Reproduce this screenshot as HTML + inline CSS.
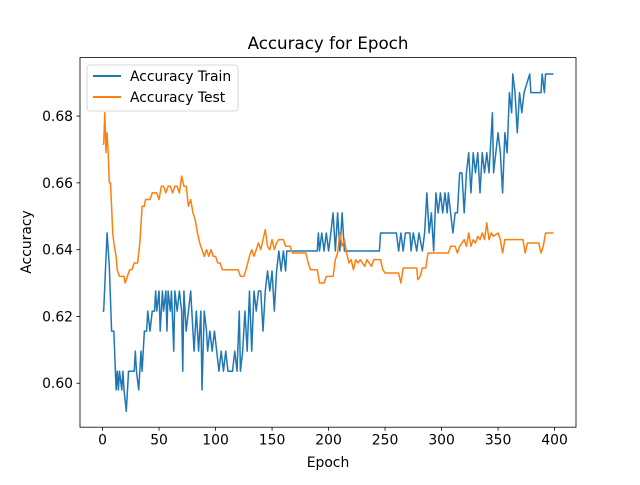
<!DOCTYPE html>
<html><head><meta charset="utf-8"><style>
body{margin:0;background:#fff}
svg{font-family:"DejaVu Sans","Liberation Sans",sans-serif}
</style></head><body>
<svg id="chart" width="640" height="480" viewBox="0 0 640 480">
<rect width="640" height="480" fill="#fff"/>
<text x="328" y="49" font-size="16.7" text-anchor="middle">Accuracy for Epoch</text>
<text x="328" y="467" font-size="13.9" text-anchor="middle">Epoch</text>
<text x="0" y="0" font-size="13.9" text-anchor="middle" transform="translate(31,242) rotate(-90)">Accuracy</text>
<g id="ticks"></g>
<g id="series"></g>
<rect x="80" y="57.6" width="496" height="369.6" fill="none" stroke="#000" stroke-width="0.8"/>
<g>
<rect x="87" y="65" width="151" height="46" rx="3" fill="#fff" fill-opacity="0.8" stroke="#ccc" stroke-width="0.8"/>
<line x1="93" y1="76" x2="121" y2="76" stroke="#1f77b4" stroke-width="2"/>
<text x="130" y="81" font-size="13.9">Accuracy Train</text>
<line x1="93" y1="97" x2="121" y2="97" stroke="#ff7f0e" stroke-width="2"/>
<text x="130" y="102" font-size="13.9">Accuracy Test</text>
</g>
</svg>
<script>
const xTicks=[0,50,100,150,200,250,300,350,400];
const yTicks=[0.60,0.62,0.64,0.66,0.68];
const yTickLabels=["0.60","0.62","0.64","0.66","0.68"];
const trainEpochs=[0,1,4,6,8,10,12,13,14,15,17,18,19,21,23,28,29,30,32,34,35,37,39,40,42,44,46,47,48,50,51,53,54,56,57,58,60,61,63,64,66,68,70,71,72,74,76,78,80,81,83,85,87,88,90,92,93,95,97,99,101,103,105,107,109,111,115,117,119,121,122,124,126,128,130,132,134,136,138,140,142,144,146,148,150,152,154,156,158,160,162,163,190,191,192,194,196,198,200,202,204,206,208,210,212,214,245,246,260,262,264,266,268,272,273,275,278,280,283,285,287,289,291,293,295,297,299,301,303,305,306,308,310,312,314,316,318,320,322,324,326,328,330,332,334,336,338,340,342,345,346,348,350,352,354,356,358,360,362,363,365,367,369,371,373,378,379,388,389,391,392,399];
const trainValues=[.6216,.6216,.645,.635,.6156,.6156,.598,.6036,.598,.6036,.598,.6036,.598,.5916,.6036,.6036,.6096,.6036,.598,.6096,.6036,.6156,.6156,.6216,.6156,.6216,.6216,.6276,.6216,.6276,.6156,.6276,.6216,.6276,.6156,.6276,.6216,.6276,.6096,.6276,.6216,.6276,.6216,.6036,.6276,.6156,.6216,.6276,.6156,.6096,.6216,.6096,.6216,.598,.6216,.6156,.6096,.6156,.6096,.6156,.6096,.6036,.6096,.6036,.6096,.6036,.6036,.6096,.6036,.6216,.6036,.6096,.6216,.6096,.6276,.6096,.6276,.6216,.6276,.6276,.6156,.6276,.6336,.6276,.6336,.6216,.6336,.6396,.6336,.6396,.6336,.6396,.6396,.645,.6396,.645,.6396,.645,.6396,.645,.651,.6396,.651,.6396,.651,.6396,.6396,.645,.645,.6396,.645,.6396,.645,.645,.6396,.645,.6396,.645,.6396,.645,.657,.645,.651,.6396,.657,.651,.657,.651,.657,.651,.657,.651,.645,.651,.651,.663,.663,.651,.663,.669,.657,.669,.663,.669,.657,.669,.663,.669,.663,.681,.663,.669,.675,.669,.657,.675,.669,.687,.681,.6926,.687,.675,.687,.681,.687,.6926,.687,.687,.6926,.687,.6926,.6926];
const testEpochs=[0,1,2,3,4,5,6,7,8,9,10,12,13,15,19,20,22,24,26,28,31,33,35,37,38,42,44,48,50,52,54,56,58,60,62,64,66,68,70,72,74,76,78,80,82,84,86,88,90,92,94,96,98,100,102,104,106,120,122,125,127,130,132,134,136,138,140,142,144,146,148,150,152,154,156,160,162,166,168,180,182,184,190,192,196,198,204,206,208,210,212,214,216,218,220,222,224,226,228,232,234,238,240,246,248,250,262,264,266,278,279,281,283,286,288,306,308,312,314,316,320,322,324,326,328,330,332,334,336,338,340,342,344,346,350,352,354,356,364,366,372,374,376,386,388,390,392,399];
const testValues=[.6716,.6716,.681,.669,.675,.669,.660,.66,.653,.645,.642,.638,.634,.632,.632,.630,.632,.634,.634,.636,.636,.642,.653,.653,.655,.655,.657,.657,.655,.659,.659,.657,.659,.659,.657,.659,.659,.657,.662,.659,.659,.653,.655,.651,.649,.645,.642,.640,.638,.640,.638,.640,.638,.638,.636,.636,.634,.634,.632,.632,.634,.638,.640,.638,.640,.642,.640,.643,.646,.641,.640,.643,.640,.642,.643,.643,.641,.641,.639,.639,.636,.634,.634,.630,.630,.632,.632,.637,.639,.645,.641,.643,.639,.636,.637,.634,.637,.636,.637,.635,.637,.635,.637,.637,.634,.633,.633,.630,.6345,.6345,.631,.632,.6345,.6345,.639,.639,.641,.641,.639,.641,.643,.641,.645,.641,.643,.642,.644,.643,.645,.643,.648,.643,.645,.644,.645,.643,.639,.643,.643,.643,.643,.639,.642,.642,.639,.641,.645,.645];
const NS="http://www.w3.org/2000/svg";
const X0=80,X1=576,Y0=427.2,Y1=57.6,xmin=-19.95,xmax=418.95,ymin=0.58684,ymax=0.6975;
function sx(v){return X0+(v-xmin)/(xmax-xmin)*(X1-X0);}
function sy(v){return Y0-(v-ymin)/(ymax-ymin)*(Y0-Y1);}
const tg=document.getElementById('ticks');
xTicks.forEach(t=>{
  const l=document.createElementNS(NS,'line');
  
  
  l.setAttribute('x1',sx(t));l.setAttribute('x2',sx(t));l.setAttribute('y1',Y0);l.setAttribute('y2',Y0+3.5);
  l.setAttribute('stroke','#000');l.setAttribute('stroke-width','0.8');tg.appendChild(l);
  const tx=document.createElementNS(NS,'text');
  
  
  tx.setAttribute('x',sx(t));tx.setAttribute('y',Y0+17.5);tx.setAttribute('font-size','13.9');tx.setAttribute('text-anchor','middle');
  tx.textContent=t;tg.appendChild(tx);
});
yTicks.forEach((t,i)=>{
  const l=document.createElementNS(NS,'line');
  
  
  l.setAttribute('x1',X0-3.5);l.setAttribute('x2',X0);l.setAttribute('y1',sy(t));l.setAttribute('y2',sy(t));
  l.setAttribute('stroke','#000');l.setAttribute('stroke-width','0.8');tg.appendChild(l);
  const tx=document.createElementNS(NS,'text');
  
  
  tx.setAttribute('x',X0-7);tx.setAttribute('y',sy(t)+5);tx.setAttribute('font-size','13.9');tx.setAttribute('text-anchor','end');
  tx.textContent=yTickLabels[i];tg.appendChild(tx);
});
const sg=document.getElementById('series');
function line(ep,vals,color,name){
  const p=document.createElementNS(NS,'polyline');
  
  
  p.setAttribute('points',ep.map((e,i)=>sx(e).toFixed(2)+','+sy(vals[i]).toFixed(2)).join(' '));
  p.setAttribute('fill','none');p.setAttribute('stroke',color);p.setAttribute('stroke-width','1.5');
  p.setAttribute('stroke-linejoin','round');
  sg.appendChild(p);
}
line(trainEpochs,trainValues,'#1f77b4','train-line');
line(testEpochs,testValues,'#ff7f0e','test-line');
</script>
</body></html>
